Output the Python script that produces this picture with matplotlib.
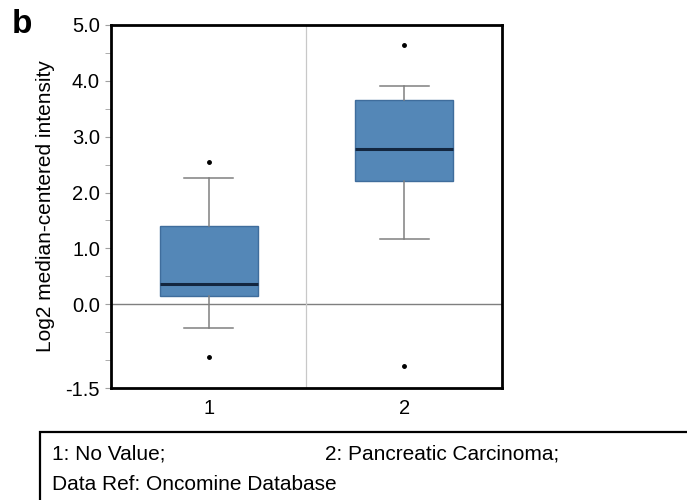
import matplotlib.pyplot as plt
import matplotlib.patches as mpatches
import numpy as np

plt.rcParams['font.family'] = ['Liberation Sans', 'DejaVu Sans']

groups = ['1', '2']
whislo = [-0.43, 1.16]
q1 = [0.15, 2.21]
med = [0.36, 2.78]
q3 = [1.40, 3.65]
whishi = [2.26, 3.91]
fliers = [[2.54, -0.95], [4.65, -1.10]]
legend_items = ['1: No Value;', '2: Pancreatic Carcinoma;']
data_ref = 'Data Ref: Oncomine Database'

stats = []
for i in range(len(groups)):
    stats.append(dict(label=groups[i], whislo=whislo[i], q1=q1[i], med=med[i],
                      q3=q3[i], whishi=whishi[i], fliers=fliers[i]))

fig = plt.figure(figsize=(6.87, 5.0), dpi=100)
ax = fig.add_axes([0.1616, 0.224, 0.569, 0.726])

# light guide lines behind the boxes
ax.axhline(0, color='#7f7f7f', lw=1.0, zorder=1)
ax.axvline(1.5, color='#c8c8c8', lw=0.9, zorder=1)

ax.bxp(stats, positions=[1, 2], widths=0.5, patch_artist=True,
       boxprops=dict(facecolor='#5487b7', edgecolor='#3f6d9c', lw=1.0),
       medianprops=dict(color='#13263f', lw=2.2),
       whiskerprops=dict(color='#808080', lw=1.1),
       capprops=dict(color='#808080', lw=1.1),
       flierprops=dict(marker='o', markersize=2.5, markerfacecolor='black',
                       markeredgecolor='black'),
       zorder=3)

ax.set_xlim(0.5, 2.5)
ax.set_ylim(-1.5, 5.0)
ax.set_yticks([-1.5, 0, 1, 2, 3, 4, 5])
ax.set_yticklabels(['-1.5', '0.0', '1.0', '2.0', '3.0', '4.0', '5.0'])
ax.set_yticks([-1.0, -0.5, 0.5, 1.5, 2.5, 3.5, 4.5], minor=True)
ax.tick_params(axis='y', which='both', length=4, color='#a0a0a0', labelsize=14.5, pad=4)
ax.tick_params(axis='x', length=0, labelsize=14.5, pad=8)
for s in ax.spines.values():
    s.set_linewidth(2.0)
    s.set_color('black')

ax.set_ylabel('Log2 median-centered intensity', fontsize=15)
ax.yaxis.set_label_coords(-0.143, 0.5)

fig.text(0.017, 0.982, 'b', fontsize=24, fontweight='bold', va='top', ha='left')

# caption box along the bottom
box = mpatches.Rectangle((40 / 687, -0.05), 0.99 - 40 / 687 + 0.1, 0.136 + 0.05,
                         transform=fig.transFigure, fill=False, ec='black', lw=1.6,
                         clip_on=False)
fig.add_artist(box)
fig.text(52 / 687, 0.093, legend_items[0], fontsize=15, va='center')
fig.text(325 / 687, 0.093, legend_items[1], fontsize=15, va='center')
fig.text(52 / 687, 0.032, data_ref, fontsize=15, va='center')

fig.savefig('out.png', dpi=100)
